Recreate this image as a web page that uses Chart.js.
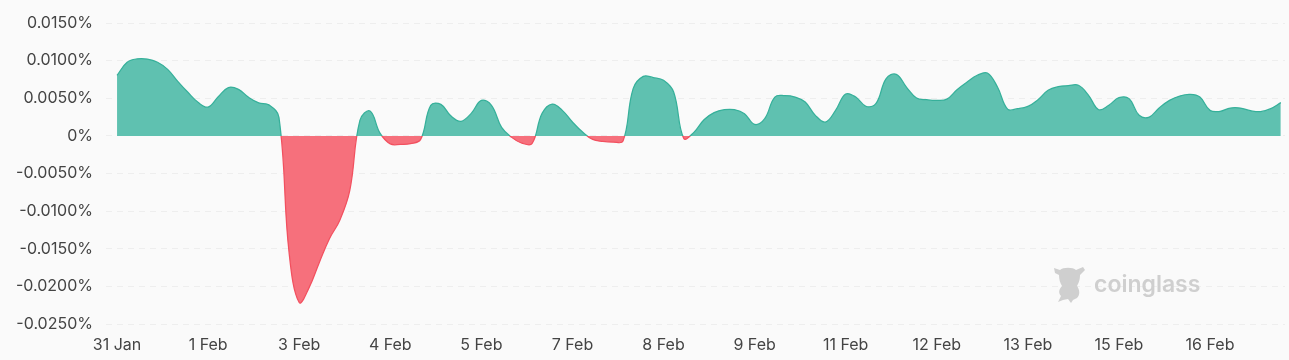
<!DOCTYPE html>
<html>
<head>
<meta charset="utf-8">
<title>Funding rate</title>
<script src="https://cdn.jsdelivr.net/npm/chart.js@4/dist/chart.umd.min.js"></script>
<style>
    html, body { margin: 0; padding: 0; background: #fafafa; }
    #wrap { position: relative; width: 1289px; height: 360px; }
</style>
</head>
<body>
<div id="wrap"><canvas id="funding-chart"></canvas></div>
<script>
const tickLabels = ['31 Jan', '1 Feb', '3 Feb', '4 Feb', '5 Feb', '7 Feb', '8 Feb', '9 Feb', '11 Feb', '12 Feb', '13 Feb', '15 Feb', '16 Feb'];
const tickIndexes = [0, 9, 18, 27, 36, 45, 54, 63, 72, 81, 90, 99, 108];
const yTicks = [0.015, 0.01, 0.005, 0, -0.005, -0.01, -0.015, -0.02, -0.025];
const fundingRates = [
    0.00805, 0.00978, 0.01024, 0.01021, 0.00978, 0.00884, 0.00725, 0.00579, 0.00446, 0.00383,
    0.00519, 0.00641, 0.00618, 0.00512, 0.00439, 0.00412, 0.00246, -0.0155, -0.02214, -0.0201,
    -0.01678, -0.01363, -0.01124, -0.00725, 0.00206, 0.0033, 0.00033, -0.00106, -0.00113, -0.00104,
    -0.00047, 0.00406, 0.00419, 0.00263, 0.00193, 0.00299, 0.00472, 0.00406, 0.00113, -0.0002,
    -0.00096, -0.00104, 0.00299, 0.00423, 0.00339, 0.00184, 0.00051, -0.00047, -0.00073, -0.00082,
    -0.00069, 0.00628, 0.00791, 0.00774, 0.00738, 0.00583, -0.00033, 0.00047, 0.00215, 0.00309,
    0.00348, 0.00348, 0.00295, 0.00153, 0.00229, 0.00516, 0.00535, 0.00516, 0.0045, 0.00273,
    0.00184, 0.00339, 0.00556, 0.00516, 0.00392, 0.00432, 0.00761, 0.00818, 0.00649, 0.00503,
    0.00481, 0.00472, 0.00489, 0.00614, 0.00716, 0.00805, 0.00835, 0.00649, 0.00356, 0.00362,
    0.00392, 0.00481, 0.00605, 0.00654, 0.00668, 0.00672, 0.00539, 0.00348, 0.00406, 0.00508,
    0.00495, 0.00273, 0.0025, 0.00375, 0.00472, 0.00529, 0.00552, 0.00516, 0.00339, 0.00326,
    0.0037, 0.0037, 0.00335, 0.00322, 0.00362, 0.00442
];

// line colour flips exactly where the curve crosses zero
function lineColor(context) {
    const { chart } = context;
    const area = chart.chartArea;
    if (!area) return '#36b09a';
    const stop = (chart.scales.y.getPixelForValue(0) - area.top) / (area.bottom - area.top);
    const gradient = chart.ctx.createLinearGradient(0, area.top, 0, area.bottom);
    gradient.addColorStop(0, '#36b09a');
    gradient.addColorStop(stop, '#36b09a');
    gradient.addColorStop(stop, '#f2505f');
    gradient.addColorStop(1, '#f2505f');
    return gradient;
}

const watermark = {
    id: 'watermark',
    beforeDatasetsDraw(chart) {
        const ctx = chart.ctx;
        ctx.save();
        ctx.fillStyle = '#cfcfcf';
        ctx.translate(1052, 265);
        ctx.fill(new Path2D('M2 3 L8 5 C11 2 21 2 24 5 L31 2 L33 5 L28 10 C28 16 26 19 25 21 C28 25 28 30 25 33 L21 35 L19 38 L16 34 L11 35 L6 37 L9 31 C6 28 7 24 10 21 C8 18 7 14 7 10 L3 8 Z'));
        ctx.font = '600 23px Inter, Roboto, sans-serif';
        ctx.textBaseline = 'middle';
        ctx.textAlign = 'left';
        ctx.fillText('coinglass', 42, 20);
        ctx.restore();
    }
};

new Chart(document.getElementById('funding-chart').getContext('2d'), {
    type: 'line',
    data: {
        datasets: [{
            data: fundingRates.map((v, i) => ({ x: i, y: v })),
            borderColor: lineColor,
            borderWidth: 1.25,
            pointRadius: 0,
            tension: 0.4,
            fill: {
                target: { value: 0 },
                above: '#5fc1b0',
                below: '#f6707c'
            }
        }]
    },
    options: {
        responsive: true,
        maintainAspectRatio: false,
        animation: false,
        layout: { padding: { top: 23, right: 4, bottom: 0, left: 0 } },
        plugins: {
            legend: { display: false },
            tooltip: { enabled: false }
        },
        scales: {
            x: {
                type: 'linear',
                min: -1.09,
                max: 115.41,
                grid: { display: false },
                border: { display: false },
                afterBuildTicks(scale) {
                    scale.ticks = tickIndexes.map(value => ({ value }));
                },
                afterFit(scale) {
                    scale.height = 36;
                },
                ticks: {
                    autoSkip: false,
                    maxRotation: 0,
                    padding: 4,
                    color: '#444',
                    font: { family: 'Inter, Roboto, sans-serif', size: 16 },
                    callback: value => tickLabels[tickIndexes.indexOf(value)]
                }
            },
            y: {
                min: -0.025,
                max: 0.015,
                border: { display: false, dash: [6, 5] },
                grid: { color: '#eeeeee', drawTicks: false },
                afterBuildTicks(scale) {
                    scale.ticks = yTicks.map(value => ({ value }));
                },
                afterFit(scale) {
                    scale.width = 106;
                },
                ticks: {
                    padding: 13,
                    color: '#444',
                    font: { family: 'Inter, Roboto, sans-serif', size: 16 },
                    callback: value => value === 0 ? '0%' : value.toFixed(4) + '%'
                }
            }
        }
    },
    plugins: [watermark]
});
</script>
</body>
</html>
